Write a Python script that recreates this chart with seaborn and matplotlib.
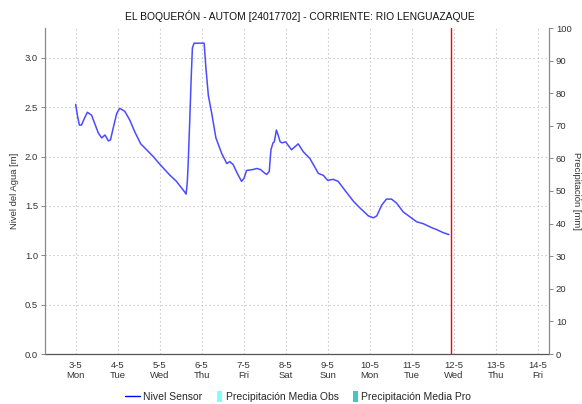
import pandas as pd
import matplotlib
matplotlib.use("Agg")
import matplotlib.pyplot as plt
from matplotlib.lines import Line2D
from matplotlib.patches import Patch, Rectangle
from matplotlib.legend_handler import HandlerPatch
import seaborn as sns

# --- data -----------------------------------------------------------------
titulo = "EL BOQUERÓN - AUTOM [24017702] - CORRIENTE: RIO LENGUAZAQUE"
inicio = pd.Timestamp("2021-05-03 00:00")

# days elapsed since the start of 3-5 and the sensor water level [m]
dias_sensor = [
    0.00, 0.05, 0.09, 0.14, 0.20, 0.28, 0.38, 0.46, 0.54, 0.62, 0.70, 0.78,
    0.83, 0.90, 0.98, 1.05, 1.17, 1.29, 1.41, 1.55, 1.69, 1.85, 2.01, 2.25,
    2.40, 2.60, 2.63, 2.66, 2.68, 2.72, 2.75, 2.78, 2.82, 3.06, 3.10, 3.16,
    3.24, 3.34, 3.48, 3.60, 3.67, 3.75, 3.85, 3.95, 4.01, 4.07, 4.23, 4.31,
    4.40, 4.51, 4.55, 4.61, 4.65, 4.70, 4.73, 4.78, 4.82, 4.87, 4.92, 5.00,
    5.14, 5.30, 5.42, 5.58, 5.78, 5.90, 6.00, 6.13, 6.25, 6.41, 6.61, 6.77,
    6.97, 7.09, 7.17, 7.29, 7.40, 7.52, 7.64, 7.80, 7.96, 8.12, 8.28, 8.48,
    8.60, 8.75, 8.89,
]
nivel_sensor = [
    2.53, 2.40, 2.32, 2.32, 2.38, 2.45, 2.42, 2.33, 2.24, 2.19, 2.22, 2.16,
    2.17, 2.30, 2.44, 2.49, 2.46, 2.37, 2.25, 2.13, 2.07, 2.00, 1.92, 1.81,
    1.75, 1.64, 1.62, 1.75, 1.93, 2.40, 2.78, 3.10, 3.15, 3.15, 2.91, 2.62,
    2.44, 2.19, 2.03, 1.93, 1.95, 1.92, 1.83, 1.75, 1.78, 1.86, 1.87, 1.88,
    1.87, 1.83, 1.82, 1.85, 2.07, 2.14, 2.15, 2.27, 2.22, 2.15, 2.14, 2.15,
    2.07, 2.13, 2.05, 1.98, 1.83, 1.81, 1.76, 1.77, 1.75, 1.66, 1.55, 1.48,
    1.40, 1.38, 1.40, 1.51, 1.57, 1.57, 1.53, 1.44, 1.39, 1.34, 1.32, 1.28,
    1.26, 1.23, 1.21,
]

hora_actual = pd.Timestamp("2021-05-11 22:30")
dias_eje = pd.date_range("2021-05-03", "2021-05-14", freq="D")
etiquetas_dias = [f"{d.day}-{d.month}\n{d.strftime('%a')}" for d in dias_eje]
limite_x = (pd.Timestamp("2021-05-02 06:30"), pd.Timestamp("2021-05-14 06:30"))

ticks_nivel = [0.0, 0.5, 1.0, 1.5, 2.0, 2.5, 3.0]
ticks_precip = list(range(0, 101, 10))

series = ["Nivel Sensor", "Precipitación Media Obs", "Precipitación Media Pro"]
colores = ["#0000ff", "#80ffff", "#40c8c8"]

df = pd.DataFrame({
    "fecha": inicio + pd.to_timedelta(dias_sensor, unit="D"),
    "nivel": nivel_sensor,
})

# --- figure ---------------------------------------------------------------
sns.set_style("white")
plt.rcParams["font.family"] = ["Liberation Sans", "DejaVu Sans"]

fig = plt.figure(figsize=(5.82, 4.04), dpi=100)
ax = fig.add_axes([45 / 582, 50 / 404, 504 / 582, 326 / 404])

sns.lineplot(data=df, x="fecha", y="nivel", ax=ax, color="#4b4bff",
             linewidth=1.1, legend=False)

ax.axvline(hora_actual, color="#ff0000", linewidth=1.0, zorder=5)

ax.set_xlim(*limite_x)
ax.set_ylim(0, 3.304)
ax.set_xticks(dias_eje)
ax.set_xticklabels(etiquetas_dias)
ax.set_yticks(ticks_nivel)
ax.set_yticklabels([f"{v:.1f}" for v in ticks_nivel])
ax.grid(True, linestyle=(0, (1.2, 2.4)), color="#c4c4c4", linewidth=0.8)
ax.set_axisbelow(True)
ax.tick_params(axis="x", length=0, pad=5, labelsize=6.8, colors="#333333")
ax.tick_params(axis="y", length=3, width=0.7, color="#888888", pad=2,
               labelsize=6.8, labelcolor="#333333")
ax.set_xlabel("")
ax.set_ylabel("Nivel del Agua [m]", fontsize=6.8, color="#333333", labelpad=4)

for lado in ["left", "right"]:
    ax.spines[lado].set_color("#888888")
    ax.spines[lado].set_linewidth(0.8)
ax.spines["top"].set_visible(False)
ax.spines["bottom"].set_linestyle((0, (1, 1)))
ax.spines["bottom"].set_color("#555555")
ax.spines["bottom"].set_linewidth(0.9)

ax2 = ax.twinx()
ax2.set_ylim(0, 100)
ax2.set_yticks(ticks_precip)
ax2.set_yticklabels([str(v) for v in ticks_precip])
ax2.tick_params(axis="y", length=3, width=0.7, color="#888888", pad=2,
                labelsize=6.8, labelcolor="#333333")
ax2.set_ylabel("Precipitación [mm]", fontsize=6.8, color="#333333",
               rotation=270, labelpad=7)
for lado in ["left", "right"]:
    ax2.spines[lado].set_color("#888888")
    ax2.spines[lado].set_linewidth(0.8)
ax2.spines["top"].set_visible(False)
ax2.spines["bottom"].set_visible(False)
ax2.grid(False)

fig.text(0.515, 1 - 16 / 404, titulo, ha="center", va="center",
         fontsize=7.4, color="#111111")


def barra_estrecha(legend, orig_handle, xdescent, ydescent, width, height,
                   fontsize):
    return Rectangle((width - 3.6 - xdescent, -ydescent - 1.5), 3.6,
                     height + 3)


manejadores = [
    Line2D([], [], color=colores[0], linewidth=1.0),
    Patch(facecolor=colores[1], edgecolor="none"),
    Patch(facecolor=colores[2], edgecolor="none"),
]
fig.legend(manejadores, series, loc="center",
           bbox_to_anchor=(298 / 582, 7 / 404), ncol=3, frameon=False,
           fontsize=7.5, handlelength=1.5, handletextpad=0.3,
           columnspacing=0.4,
           handler_map={Patch: HandlerPatch(patch_func=barra_estrecha)})

fig.savefig("out.png", dpi=100)
